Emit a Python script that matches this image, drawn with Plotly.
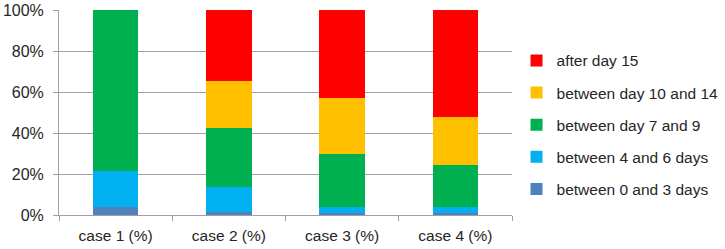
import plotly.graph_objects as go

categories = ["case 1 (%)", "case 2 (%)", "case 3 (%)", "case 4 (%)"]
series_names = ["between 0 and 3 days", "between 4 and 6 days", "between day 7 and 9",
                "between day 10 and 14", "after day 15"]
d0_3 = [4.0, 1.3, 1.0, 1.0]
d4_6 = [17.6, 12.4, 3.0, 3.0]
d7_9 = [78.4, 28.6, 25.8, 20.5]
d10_14 = [0.0, 23.1, 27.3, 23.2]
d15 = [0.0, 34.6, 42.9, 52.3]
colors = ["#4F81BD", "#00B0F0", "#00B050", "#FFC000", "#FF0000"]

fig = go.Figure()
for i, (name, vals) in enumerate(zip(series_names, [d0_3, d4_6, d7_9, d10_14, d15])):
    fig.add_trace(go.Bar(x=categories, y=vals, name=name, marker_color=colors[i],
                         marker_line_width=0, width=0.4, legendgroup=str(i),
                         legendrank=100 - i))

font = dict(family="Liberation Sans, Arial, sans-serif", size=15.5, color="#262626")
legend_font = dict(family="Liberation Sans, Arial, sans-serif", size=15.5, color="#262626")
fig.update_layout(
    barmode="stack",
    width=725, height=249,
    margin=dict(l=59, r=213, t=10, b=34, autoexpand=False),
    paper_bgcolor="white", plot_bgcolor="white",
    font=font,
    showlegend=True,
    legend=dict(x=1.01, y=0.44, xanchor="left", yanchor="middle",
                traceorder="grouped", tracegroupgap=9, font=legend_font),
    bargap=0.6,
)
fig.update_yaxes(range=[0, 100], tickvals=[0, 20, 40, 60, 80, 100],
                 ticktext=["0%", "20%", "40%", "60%", "80%", "100%"],
                 showgrid=True, gridcolor="#A0A0A0", gridwidth=1, automargin=False,
                 showline=True, linecolor="#A0A0A0", ticks="outside", ticklen=5,
                 tickcolor="#A0A0A0", zeroline=False, tickfont=dict(size=16),
                 ticklabelstandoff=6)
fig.update_xaxes(showline=True, linecolor="#A0A0A0", ticks="outside", ticklen=5,
                 tickcolor="#A0A0A0", tickson="boundaries", showgrid=False,
                 automargin=False, ticklabelstandoff=6)
fig.write_html("out.html")
